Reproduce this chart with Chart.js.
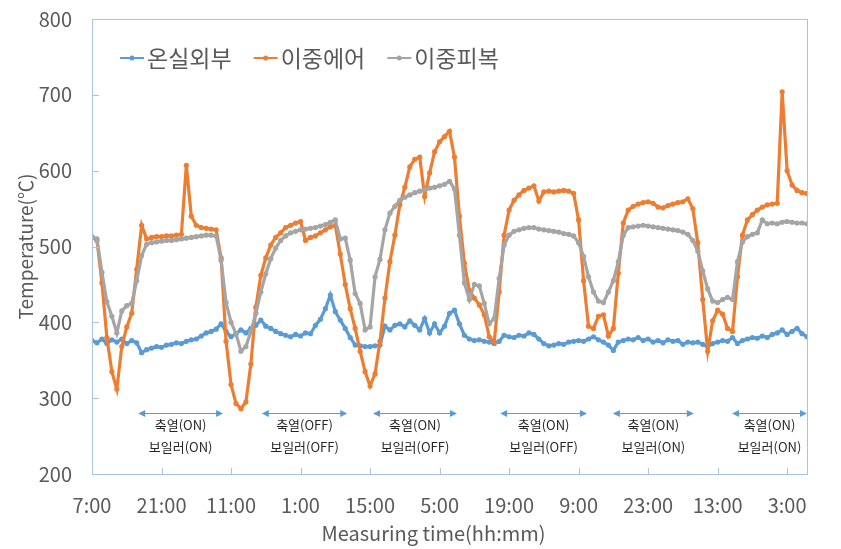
<!DOCTYPE html>
<html>
<head>
<meta charset="utf-8">
<script src="https://cdn.jsdelivr.net/npm/chart.js@4.4.1/dist/chart.umd.min.js"></script>
<style>
  html, body { margin: 0; padding: 0; background: #fff; }
  #wrap { width: 841px; height: 549px; }
</style>
</head>
<body>
<div id="wrap"><canvas id="myChart" width="841" height="549"></canvas></div>
<script>
// ====== DATA (one reading per hour, starting 7:00) ======
const seriesNames = ["온실외부", "이중에어", "이중피복"];

const outside = [
  376, 373, 378, 372, 377, 374, 378, 372, 376, 373,
  360, 364, 366, 368, 367, 370, 371, 373, 372, 375,
  377, 378, 382, 386, 388, 391, 398, 388, 381, 385,
  390, 386, 392, 396, 403, 395, 392, 388, 385, 383,
  381, 384, 382, 386, 385, 396, 404, 418, 436, 414,
  403, 392, 380, 370, 369, 368, 368, 369, 370, 395,
  390, 396, 398, 394, 402, 396, 390, 405, 386, 398,
  386, 395, 412, 416, 398, 383, 378, 376, 377, 375,
  374, 372, 375, 383, 381, 380, 383, 382, 386, 384,
  378, 372, 369, 370, 372, 371, 374, 375, 376, 375,
  378, 381, 377, 374, 370, 363, 374, 376, 378, 377,
  380, 376, 378, 374, 376, 373, 377, 375, 376, 371,
  374, 373, 374, 371, 368, 372, 374, 376, 375, 380,
  372, 376, 378, 380, 379, 382, 380, 384, 386, 390,
  384, 388, 392, 385, 381
];

const doubleAir = [
  512, 508, 452, 380, 335, 312, 368, 394, 412, 470,
  528, 510, 512, 513, 513, 514, 514, 515, 516, 607,
  540, 528, 525, 524, 523, 522, 485, 375, 318, 293,
  286, 295, 345, 420, 462, 485, 502, 512, 518, 525,
  528, 531, 533, 508, 512, 514, 518, 522, 526, 528,
  490, 450, 418, 392, 362, 335, 316, 332, 375, 432,
  480, 515, 555, 578, 605, 615, 618, 566, 597, 625,
  638, 645, 652, 618, 540, 478, 442, 432, 423, 410,
  381, 374, 440, 515, 548, 561, 568, 574, 577, 580,
  560, 572, 573, 572, 573, 574, 573, 570, 535, 455,
  395, 392, 408, 410, 382, 392, 465, 531, 548, 553,
  556, 558, 559, 557, 552, 551, 554, 556, 558, 559,
  563, 550, 505, 430, 362, 402, 416, 411, 392, 388,
  460, 515, 535, 542, 548, 552, 555, 556, 557, 704,
  600, 581, 574, 571, 570
];

const doubleCover = [
  513, 510, 466, 427, 408, 386, 415, 422, 425, 455,
  488, 503, 505, 506, 507, 508, 508, 509, 510, 511,
  512, 513, 514, 515, 515, 514, 482, 426, 400, 385,
  362, 368, 388, 412, 440, 464, 484, 498, 508, 514,
  518, 520, 522, 523, 524, 525, 527, 529, 532, 535,
  510, 511, 482, 438, 425, 390, 394, 460, 483, 522,
  544, 553, 561, 565, 568, 571, 573, 575, 577, 578,
  580, 582, 586, 576, 515, 452, 430, 450, 448, 425,
  398, 405, 458, 502, 515, 520, 522, 524, 525, 525,
  523, 522, 521, 520, 519, 517, 516, 514, 505, 487,
  460, 440, 428, 426, 440, 455, 480, 515, 525, 526,
  527, 528, 527, 526, 525, 524, 523, 522, 521, 519,
  516, 508, 494, 468, 444, 428, 426, 430, 433, 430,
  480, 506, 513, 516, 518, 535, 530, 531, 530, 532,
  533, 532, 531, 531, 530
];

const tickLabels = ["7:00", "21:00", "11:00", "1:00", "15:00", "5:00",
                    "19:00", "9:00", "23:00", "13:00", "3:00"];
const tickStep = 14; // hours between labels

// operating periods (hours from start) with their labels
const modeStart = [9.3, 34.2, 56.6, 82.2, 104.9, 128.9];
const modeEnd = [26.4, 51.4, 73.5, 99.7, 121.2, 144];
const heatLabels = ["축열(ON)", "축열(OFF)", "축열(ON)", "축열(ON)", "축열(ON)", "축열(ON)"];
const boilerLabels = ["보일러(ON)", "보일러(OFF)", "보일러(OFF)", "보일러(OFF)", "보일러(ON)", "보일러(ON)"];

// ====== STYLE ======
const FONT = "'Noto Sans CJK KR', 'Noto Sans', sans-serif";
const TEXT = "#595959";
const AXIS = "#a9c4e0";
const colors = ["#5B9BD5", "#ED7D31", "#A5A5A5"];

function toPoints(arr) {
  return arr.map((v, i) => ({ x: i, y: v }));
}

const decorations = {
  id: "decorations",
  afterDraw(chart) {
    const { ctx, chartArea: a, scales: { x, y } } = chart;
    ctx.save();

    // frame + inward tick marks
    ctx.strokeStyle = AXIS;
    ctx.lineWidth = 1;
    ctx.strokeRect(a.left + 0.5, a.top + 0.5, a.right - a.left, a.bottom - a.top);
    ctx.beginPath();
    y.ticks.forEach(t => {
      const py = Math.round(y.getPixelForValue(t.value)) + 0.5;
      ctx.moveTo(a.left, py);
      ctx.lineTo(a.left + 7, py);
    });
    x.ticks.forEach(t => {
      const px = Math.round(x.getPixelForValue(t.value)) + 0.5;
      ctx.moveTo(px, a.bottom);
      ctx.lineTo(px, a.bottom - 6);
    });
    ctx.stroke();

    // period arrows and labels
    const ay = Math.round(y.getPixelForValue(280)) + 0.5;
    ctx.strokeStyle = colors[0];
    ctx.fillStyle = colors[0];
    modeStart.forEach((s, i) => {
      const x1 = x.getPixelForValue(s);
      const x2 = x.getPixelForValue(modeEnd[i]);
      ctx.beginPath();
      ctx.moveTo(x1 + 2, ay);
      ctx.lineTo(x2 - 2, ay);
      ctx.stroke();
      ctx.beginPath();
      ctx.moveTo(x1, ay); ctx.lineTo(x1 + 7, ay - 3.5); ctx.lineTo(x1 + 7, ay + 3.5); ctx.closePath();
      ctx.moveTo(x2, ay); ctx.lineTo(x2 - 7, ay - 3.5); ctx.lineTo(x2 - 7, ay + 3.5); ctx.closePath();
      ctx.fill();
    });
    ctx.fillStyle = "#262626";
    ctx.font = "13px " + FONT;
    ctx.textAlign = "center";
    ctx.textBaseline = "middle";
    modeStart.forEach((s, i) => {
      const cx = (x.getPixelForValue(s) + x.getPixelForValue(modeEnd[i])) / 2;
      ctx.fillText(heatLabels[i], cx, y.getPixelForValue(264));
      ctx.fillText(boilerLabels[i], cx, y.getPixelForValue(235));
    });

    // legend inside plot
    ctx.font = "23px " + FONT;
    ctx.textAlign = "left";
    let lx = a.left + 28;
    const ly = a.top + 39;
    chart.data.datasets.forEach(ds => {
      ctx.strokeStyle = ds.borderColor;
      ctx.lineWidth = 2;
      ctx.beginPath();
      ctx.moveTo(lx, ly);
      ctx.lineTo(lx + 24, ly);
      ctx.stroke();
      ctx.fillStyle = ds.borderColor;
      ctx.beginPath();
      ctx.arc(lx + 12, ly, 2.5, 0, Math.PI * 2);
      ctx.fill();
      ctx.fillStyle = TEXT;
      ctx.fillText(ds.label, lx + 27, ly);
      lx += 27 + ctx.measureText(ds.label).width + 22;
    });

    // x axis title
    ctx.font = "20px " + FONT;
    ctx.textAlign = "center";
    ctx.fillText("Measuring time(hh:mm)", chart.width / 2 + 13, 533);
    ctx.restore();
  }
};

function makeSet(label, arr, color, order) {
  return {
    label: label,
    data: toPoints(arr),
    borderColor: color,
    backgroundColor: color,
    borderWidth: 3.2,
    pointRadius: 2.6,
    pointBorderWidth: 0,
    pointBackgroundColor: color,
    tension: 0,
    order: order
  };
}

const chart = new Chart(document.getElementById("myChart"), {
  type: "line",
  data: {
    datasets: [
      makeSet(seriesNames[0], outside, colors[0], 2),
      makeSet(seriesNames[1], doubleAir, colors[1], 1),
      makeSet(seriesNames[2], doubleCover, colors[2], 0)
    ]
  },
  options: {
    responsive: false,
    animation: false,
    layout: { padding: { top: 19, right: 34, left: 0, bottom: 0 } },
    plugins: { legend: { display: false }, tooltip: { enabled: false } },
    scales: {
      x: {
        type: "linear",
        min: 0,
        max: outside.length - 1,
        bounds: "data",
        grid: { display: false, drawTicks: false },
        border: { display: false },
        ticks: {
          stepSize: tickStep,
          autoSkip: false,
          maxRotation: 0,
          padding: 19,
          color: TEXT,
          font: { family: FONT, size: 20 },
          callback: v => tickLabels[Math.round(v / tickStep)] || ""
        },
        afterBuildTicks: s => {
          s.ticks = s.ticks.filter(t => t.value % tickStep === 0 && t.value / tickStep < tickLabels.length);
        },
        afterFit: s => { s.height = 75; }
      },
      y: {
        min: 200,
        max: 800,
        grid: { display: false, drawTicks: false },
        border: { display: false },
        ticks: {
          stepSize: 100,
          padding: 20,
          color: TEXT,
          font: { family: FONT, size: 20 }
        },
        title: {
          display: true,
          text: "Temperature(℃)",
          color: TEXT,
          font: { family: FONT, size: 19 },
          padding: { top: 14, bottom: 0 }
        },
        afterFit: s => {
          s.width = 92;
          s.paddingTop = 0;
          s.paddingBottom = 0;
        }
      }
    }
  },
  plugins: [decorations]
});
</script>
</body>
</html>
